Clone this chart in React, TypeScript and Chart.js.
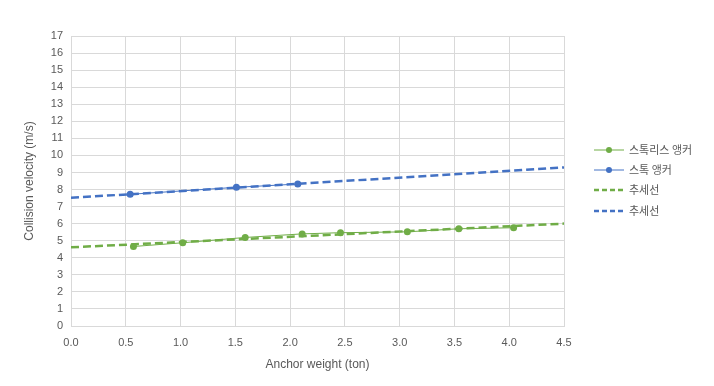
import React, { useEffect, useRef } from "react";
import { Chart, registerables } from "chart.js";

Chart.register(...registerables);

const studlessX = [0.57, 1.02, 1.59, 2.11, 2.46, 3.07, 3.54, 4.04];
const studlessY = [4.66, 4.88, 5.19, 5.40, 5.47, 5.52, 5.70, 5.76];
const studX = [0.54, 1.51, 2.07];
const studY = [7.72, 8.13, 8.32];
const xTicks = [0, 0.5, 1.0, 1.5, 2.0, 2.5, 3.0, 3.5, 4.0, 4.5];
const seriesNames = ["스톡리스 앵커", "스톡 앵커", "추세선", "추세선"];
const GREEN = "#70AD47";
const BLUE = "#4472C4";
const FONT = "'Liberation Sans', Arial, sans-serif";
const KFONT = "'Noto Sans CJK KR', sans-serif";

function fit(xs: number[], ys: number[]) {
  const n = xs.length;
  const mx = xs.reduce((a, b) => a + b, 0) / n;
  const my = ys.reduce((a, b) => a + b, 0) / n;
  let sxy = 0, sxx = 0;
  for (let i = 0; i < n; i++) {
    sxy += (xs[i] - mx) * (ys[i] - my);
    sxx += (xs[i] - mx) * (xs[i] - mx);
  }
  const b = sxy / sxx;
  const a = my - b * mx;
  const x0 = xTicks[0], x1 = xTicks[xTicks.length - 1];
  return [{ x: x0, y: a + b * x0 }, { x: x1, y: a + b * x1 }];
}

const legendPlugin = {
  id: "customLegend",
  afterDraw(chart: any) {
    const ctx = chart.ctx;
    const items = [
      { color: GREEN, dash: [], dot: true, y: 150 },
      { color: BLUE, dash: [], dot: true, y: 170 },
      { color: GREEN, dash: [5, 3], dot: false, y: 190 },
      { color: BLUE, dash: [5, 3], dot: false, y: 211 },
    ];
    ctx.save();
    items.forEach((it, i) => {
      ctx.beginPath();
      ctx.setLineDash(it.dash);
      ctx.strokeStyle = it.color;
      ctx.lineWidth = it.dot ? 1 : 2.5;
      ctx.moveTo(594, it.y);
      ctx.lineTo(624, it.y);
      ctx.stroke();
      ctx.setLineDash([]);
      if (it.dot) {
        ctx.beginPath();
        ctx.fillStyle = it.color;
        ctx.arc(609, it.y, 3, 0, Math.PI * 2);
        ctx.fill();
      }
      ctx.fillStyle = "#595959";
      ctx.font = "11px " + KFONT;
      ctx.textBaseline = "middle";
      ctx.textAlign = "left";
      ctx.fillText(seriesNames[i], 629, it.y);
    });
    ctx.restore();
  },
};

export default function App() {
  const ref = useRef<HTMLCanvasElement>(null);
  useEffect(() => {
    const chart = new Chart(ref.current!, {
      type: "scatter",
      data: {
        datasets: [
          {
            label: seriesNames[0],
            data: studlessX.map((x, i) => ({ x, y: studlessY[i] })),
            showLine: true,
            borderColor: GREEN,
            backgroundColor: GREEN,
            borderWidth: 1,
            pointRadius: 3.5,
            pointBorderWidth: 0,
          },
          {
            label: seriesNames[1],
            data: studX.map((x, i) => ({ x, y: studY[i] })),
            showLine: true,
            borderColor: BLUE,
            backgroundColor: BLUE,
            borderWidth: 1,
            pointRadius: 3.5,
            pointBorderWidth: 0,
          },
          {
            label: seriesNames[2],
            data: fit(studlessX, studlessY),
            showLine: true,
            borderColor: GREEN,
            borderWidth: 2.5,
            borderDash: [8, 4],
            pointRadius: 0,
          },
          {
            label: seriesNames[3],
            data: fit(studX, studY),
            showLine: true,
            borderColor: BLUE,
            borderWidth: 2.5,
            borderDash: [8, 4],
            pointRadius: 0,
          },
        ],
      },
      options: {
        animation: false,
        responsive: false,
        maintainAspectRatio: false,
        layout: { padding: { top: 36, right: 150, left: 0, bottom: 0 } },
        plugins: { legend: { display: false }, tooltip: { enabled: false } },
        scales: {
          x: {
            type: "linear",
            min: 0,
            max: 4.5,
            afterBuildTicks: (s: any) => { s.ticks = xTicks.map((v) => ({ value: v })); },
            afterFit: (s: any) => { s.height = 60; },
            ticks: {
              callback: (v: any) => Number(v).toFixed(1),
              color: "#595959",
              font: { family: FONT, size: 11 },
              padding: 10,
              maxRotation: 0,
            },
            grid: { color: "#D9D9D9", drawTicks: false },
            border: { color: "#D9D9D9" },
            title: {
              display: true,
              text: "Anchor weight (ton)",
              color: "#595959",
              font: { family: FONT, size: 12 },
              padding: { top: 0, bottom: 14 },
            },
          },
          y: {
            min: 0,
            max: 17,
            ticks: {
              stepSize: 1,
              color: "#595959",
              font: { family: FONT, size: 11 },
              padding: 8,
            },
            afterFit: (s: any) => { s.width = 71; },
            grid: { color: "#D9D9D9", drawTicks: false },
            border: { color: "#D9D9D9" },
            title: {
              display: true,
              text: "Collision velocity (m/s)",
              color: "#595959",
              font: { family: FONT, size: 12 },
              padding: { top: 22, bottom: 0 },
            },
          },
        },
      },
      plugins: [legendPlugin],
    });
    return () => chart.destroy();
  }, []);
  return (
    <div style={{ position: "fixed", left: 0, top: 0, width: 714, height: 386, background: "#fff" }}>
      <canvas ref={ref} width={714} height={386} style={{ display: "block" }} />
    </div>
  );
}
